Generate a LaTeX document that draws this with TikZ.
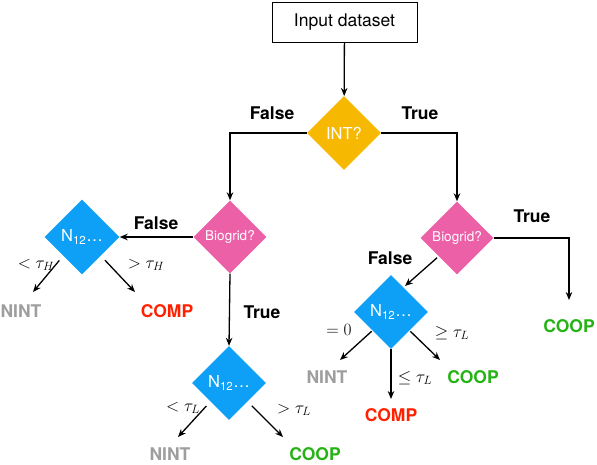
\documentclass[tikz,border=0pt]{standalone}
\usepackage{fontspec}
\setsansfont{TeX Gyre Heros}
\usetikzlibrary{shapes.geometric,arrows.meta}
\definecolor{cOrange}{RGB}{246,184,0}
\definecolor{cPink}{RGB}{236,96,168}
\definecolor{cBlue}{RGB}{14,160,246}
\definecolor{cGreen}{RGB}{36,178,20}
\definecolor{cRed}{RGB}{255,32,0}
\definecolor{cGray}{RGB}{158,158,158}
\begin{document}
\begin{tikzpicture}[x=1pt,y=-1pt,
  dia/.style={diamond, aspect=1, minimum width=74pt, minimum height=74pt, inner sep=0pt, text=white, font=\sffamily},
  qtxt/.style={font=\sffamily\fontsize{13.5}{15}\selectfont},
  ntxt/.style={font=\sffamily\fontsize{16.5}{18}\selectfont},
  lbl/.style={font=\sffamily\bfseries\fontsize{17.5}{20}\selectfont, inner sep=0pt},
  mlbl/.style={font=\fontsize{17.5}{20}\selectfont, inner sep=0pt},
  arr/.style={-{Stealth[length=8pt,width=6.5pt]}, line width=1.3pt},
  sh/.style={shorten <=6pt}
]
\useasboundingbox (0,0) rectangle (597,464);

% nodes
\node[draw, line width=0.8pt, minimum width=145pt, minimum height=40pt, inner sep=0pt,
      font=\sffamily\fontsize{17.5}{20}\selectfont] (input) at (344.5,22) {Input dataset};
\node[dia, fill=cOrange, font=\sffamily\fontsize{16.5}{18}\selectfont] (int) at (344,133) {INT?};
\node[dia, fill=cPink, qtxt, minimum width=73pt, minimum height=73pt] (bgL) at (230,237) {Biogrid?};
\node[dia, fill=cPink, qtxt, minimum width=73pt, minimum height=73pt] (bgR) at (457,238) {Biogrid?};
\node[dia, fill=cBlue, ntxt, minimum width=75pt, minimum height=75pt] (nL) at (82,237) {N\textsubscript{12}…};
\node[dia, fill=cBlue, ntxt] (nLL) at (229,383) {N\textsubscript{12}…};
\node[dia, fill=cBlue, ntxt] (nR) at (391,312) {N\textsubscript{12}…};

% outcome labels
\node[lbl, text=cGray] (o1) at (21,311) {NINT};
\node[lbl, text=cRed] (o2) at (167,311) {COMP};
\node[lbl, text=cGray] (o3) at (170,454) {NINT};
\node[lbl, text=cGreen] (o4) at (315,454) {COOP};
\node[lbl, text=cGray] (o5) at (327,377) {NINT};
\node[lbl, text=cGreen] (o6) at (473,377) {COOP};
\node[lbl, text=cRed] (o7) at (391,415) {COMP};
\node[lbl, text=cGreen] (o8) at (569,326) {COOP};

% branch labels
\node[lbl] (f1) at (272,113) {False};
\node[lbl] (t1) at (420,113) {True};
\node[lbl] (f2) at (156,223) {False};
\node[lbl] (t2) at (262,312) {True};
\node[lbl] (t3) at (532,216) {True};
\node[lbl] (f3) at (390,258) {False};

% math labels
\node[mlbl] (m1) at (36,265) {$<\tau_H$};
\node[mlbl] (m2) at (146,265) {$>\tau_H$};
\node[mlbl] (m3) at (183,408) {$<\tau_L$};
\node[mlbl] (m4) at (294,410) {$>\tau_L$};
\node[mlbl] (m5) at (339,330) {$=0$};
\node[mlbl] (m6) at (452,333) {$\geq\tau_L$};
\node[mlbl] (m7) at (415,378) {$\leq\tau_L$};

% free ends
\coordinate (e1) at (33,292);
\coordinate (e2) at (135,292);
\coordinate (e3) at (178,437);
\coordinate (e4) at (283,437);
\coordinate (e5) at (340,360);
\coordinate (e6) at (440,360);
\coordinate (e7) at (391,399);
\coordinate (e8) at (569,300);
\coordinate (e9) at (405,286);

% connectors
\draw[arr] (input) -- (int);
\draw[arr] (int.west) -| (bgL.north);
\draw[arr] (int.east) -| (bgR.north);
\draw[arr] (bgL.west) -- (nL.east);
\draw[arr] (bgL.south) -- (nLL.north);
\draw[arr] (bgR.east) -| (e8);
\draw[arr, shorten <=2pt] (bgR.south west) -- (e9);
\draw[arr, sh] (nL.south west) -- (e1);
\draw[arr, sh] (nL.south east) -- (e2);
\draw[arr, sh] (nLL.south west) -- (e3);
\draw[arr, sh] (nLL.south east) -- (e4);
\draw[arr, shorten <=1pt] (nR.south west) -- (e5);
\draw[arr, shorten <=1pt] (nR.south east) -- (e6);
\draw[arr] (nR.south) -- (e7);
\end{tikzpicture}
\end{document}
